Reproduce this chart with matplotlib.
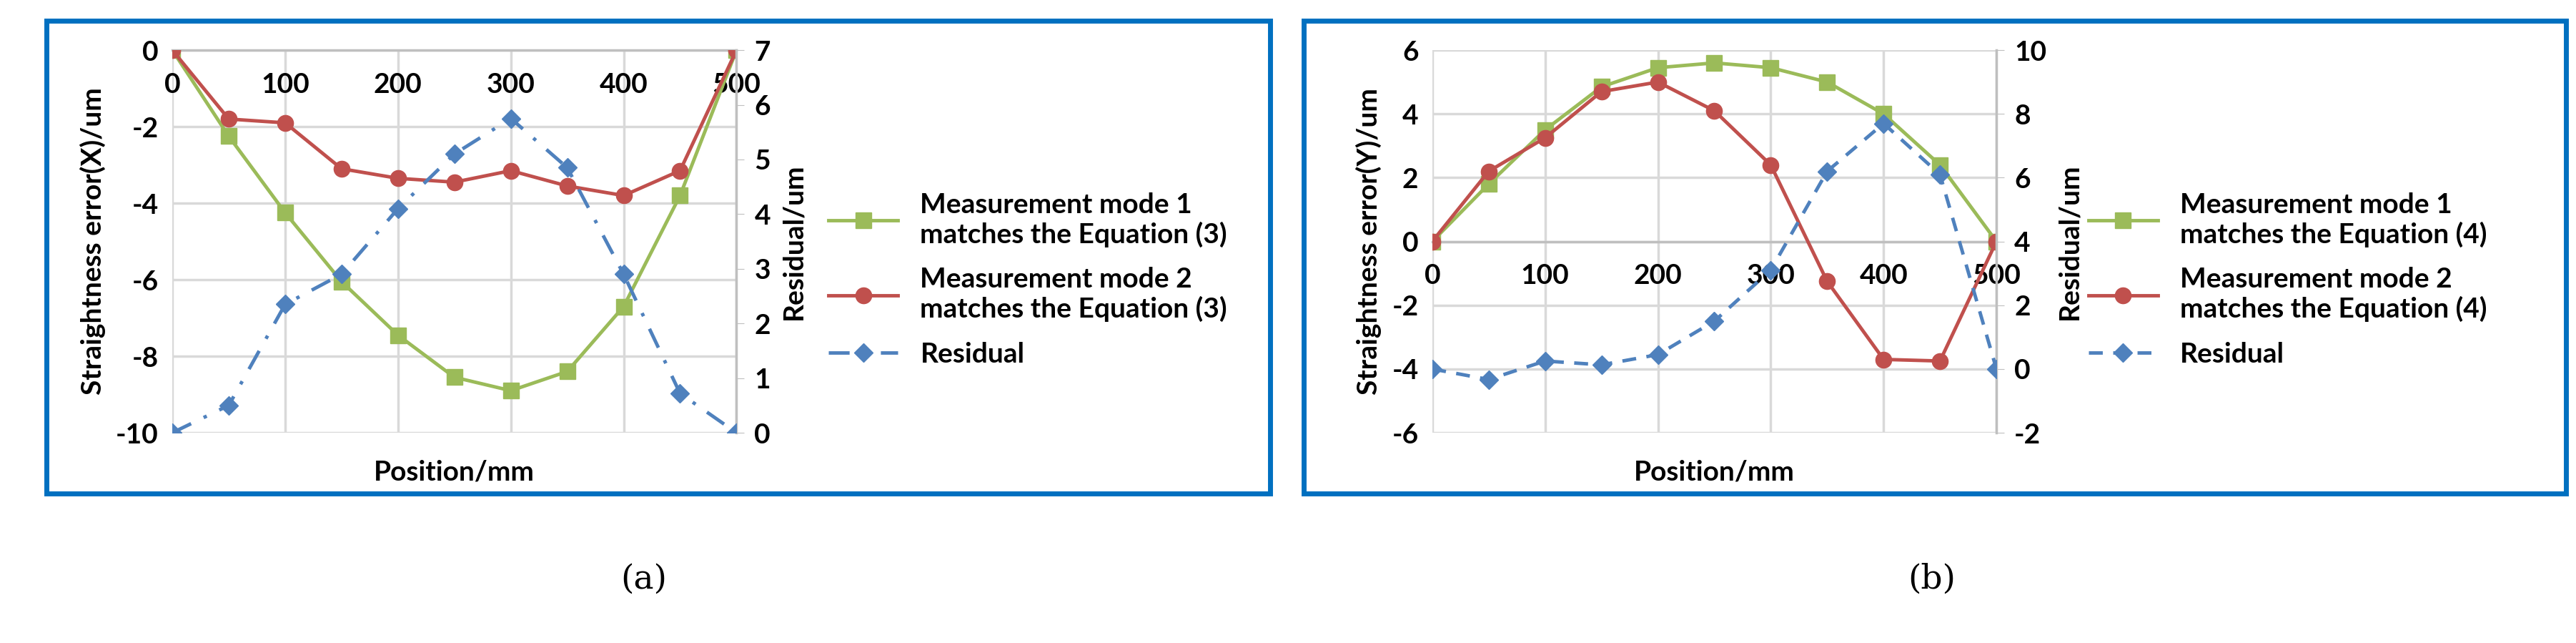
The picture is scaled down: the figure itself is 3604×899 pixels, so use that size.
import matplotlib.pyplot as plt
from matplotlib.lines import Line2D
from matplotlib.patches import Rectangle

plt.rcParams["font.family"] = ["Lato", "DejaVu Sans"]
plt.rcParams["font.weight"] = "bold"

# data
position = [0, 50, 100, 150, 200, 250, 300, 350, 400, 450, 500]

mode1_x = [0, -2.25, -4.25, -6.05, -7.45, -8.55, -8.9, -8.4, -6.7, -3.8, 0]
mode2_x = [0, -1.8, -1.9, -3.1, -3.35, -3.45, -3.15, -3.55, -3.8, -3.15, 0]
resid_x = [0, 0.5, 2.35, 2.9, 4.1, 5.1, 5.75, 4.85, 2.9, 0.72, 0]

mode1_y = [0, 1.8, 3.5, 4.85, 5.45, 5.6, 5.45, 5.0, 4.0, 2.4, 0]
mode2_y = [0, 2.2, 3.25, 4.7, 5.0, 4.1, 2.4, -1.25, -3.7, -3.75, 0]
resid_y = [0, -0.33, 0.25, 0.13, 0.45, 1.5, 3.1, 6.2, 7.7, 6.1, 0]

GREEN = "#9BBB59"
RED = "#C0504D"
BLUE = "#4F81BD"
FRAME = "#0070C0"
GRID = "#D9D9D9"
FS = 28

fig = plt.figure(figsize=(36.04, 8.99), dpi=100)


def panel(left, m1, m2, res, ylim, yticks, rlim, rticks, ylabel, eq, res_style):
    ax = fig.add_axes([left, 0.327, 0.219, 0.595])
    ax.plot(position, m1, color=GREEN, lw=3.5, marker="s", ms=16, zorder=3)
    ax.plot(position, m2, color=RED, lw=3.5, marker="o", ms=16, zorder=3)
    ax.set_xlim(0, 500)
    ax.set_ylim(*ylim)
    ax.set_yticks(yticks)
    ax.set_xticks(range(0, 501, 100))
    ax.grid(True, color=GRID, lw=2.5)
    ax.set_axisbelow(True)
    for s in ["top", "right", "left"]:
        ax.spines[s].set_visible(False)
    ax.spines["bottom"].set_position(("data", 0))
    ax.spines["bottom"].set_color("#BFBFBF")
    ax.spines["bottom"].set_linewidth(2.5)
    ax.tick_params(axis="x", length=0, labelsize=FS, pad=22)
    ax.tick_params(axis="y", length=0, labelsize=FS, pad=14)
    ax.set_ylabel(ylabel, fontsize=FS, fontweight="bold", labelpad=10)
    ax.text(0.5, -0.07, "Position/mm", transform=ax.transAxes, ha="center",
            va="top", fontsize=FS, fontweight="bold")
    ax.set_yticklabels([f"{v:g}" if v >= 0 else f"-{-v:g}" for v in yticks])

    ax2 = ax.twinx()
    ax2.plot(position, res, color=BLUE, lw=3.5, ls=res_style, marker="D",
             ms=13, zorder=3)
    ax2.set_ylim(*rlim)
    ax2.set_yticks(rticks)
    ax2.set_yticklabels([f"{v:g}" if v >= 0 else f"-{-v:g}" for v in rticks])
    for s in ["top", "left", "bottom"]:
        ax2.spines[s].set_visible(False)
    ax2.spines["right"].set_color("#BFBFBF")
    ax2.spines["right"].set_linewidth(2.5)
    ax2.tick_params(axis="y", length=8, color="#BFBFBF", labelsize=FS, pad=10)
    ax2.set_ylabel("Residual/um", fontsize=FS, fontweight="bold", labelpad=10)

    handles = [
        Line2D([], [], color=GREEN, lw=3.5, marker="s", ms=16),
        Line2D([], [], color=RED, lw=3.5, marker="o", ms=16),
        Line2D([], [], color=BLUE, lw=3.5, ls=res_style, marker="D", ms=13),
    ]
    labels = [
        f"Measurement mode 1\nmatches the Equation ({eq})",
        f"Measurement mode 2\nmatches the Equation ({eq})",
        "Residual",
    ]
    fig.legend(handles, labels, loc="upper left",
               bbox_to_anchor=(left + 0.245, 0.74), frameon=False,
               fontsize=FS, handlelength=2.5, labelspacing=0.7)
    return ax


panel(0.0669, mode1_x, mode2_x, resid_x, (-10, 0), [-10, -8, -6, -4, -2, 0],
      (0, 7), range(0, 8), "Straightness error(X)/um", 3, (0, (6, 4, 1, 4)))
panel(0.556, mode1_y, mode2_y, resid_y, (-6, 6), [-6, -4, -2, 0, 2, 4, 6],
      (-2, 10), range(-2, 11, 2), "Straightness error(Y)/um", 4, (0, (4, 3)))

for x0, w in [(0.018, 0.475), (0.506, 0.490)]:
    fig.patches.append(Rectangle((x0, 0.233), w, 0.735, transform=fig.transFigure,
                                 fill=False, ec=FRAME, lw=5))

fig.text(0.25, 0.085, "(a)", ha="center", fontsize=34, fontweight="normal",
         family="DejaVu Serif")
fig.text(0.75, 0.085, "(b)", ha="center", fontsize=34, fontweight="normal",
         family="DejaVu Serif")

fig.savefig("out.png", dpi=100)
